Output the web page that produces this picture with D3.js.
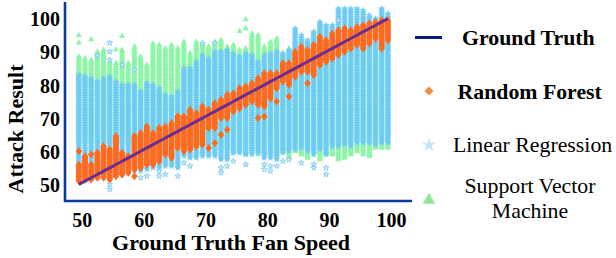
<!DOCTYPE html>
<html><head><meta charset="utf-8">
<script src="https://cdn.jsdelivr.net/npm/d3@7"></script>
<style>
html,body{margin:0;padding:0;background:#fff;}
svg{display:block;}
svg text{font-family:"Liberation Serif","Times New Roman",serif;}
</style></head>
<body><svg id="c" width="616" height="258"></svg>
<script>
// Ground-truth fan speeds (x categories)
const speeds = d3.range(50, 101);
// Random Forest predictions: range of predicted values per speed
const rfLo = [51,51.5,51.5,52,52,51.5,52.5,53,53.5,54.5,55,56,56,57,59,58,61,60,60.5,61.5,62,67,67,70,70,72,73,74,75,74,73.5,76,79,81,80,82.5,84,84,83,86,87,88,89,90,91,92,91,92.5,94,91,93.5];
const rfHi = [56,58.5,56,59.5,61.5,60.5,64.5,59.5,58.5,64.5,65.5,67.5,65.5,67,67.5,68.5,70.5,70.5,72.5,71.5,73.5,72.5,74.5,75.5,77,77.5,79,79.5,80.5,82,83.5,83.5,83.5,86.5,86.5,90,91.5,90.5,92,94.5,93.7,95.7,96.7,97.2,96.7,97.7,98.2,98.7,99.2,99.7,99.7];
const rfOut = [[50,60],[52,59],[59,52.5],[53,59.5],[56,63],[57,59.5],[66,70.5],[71,61],[72,62.5],[73,65],[74,66.5],[79,70],[80,70.5],[82,75],[84,76.5],[87,80.5]];
// Linear Regression predictions
const lrLo = [52,52,52,52.5,53,51.5,53,53,53.5,54,54,54.5,55,55,55.5,55.5,55,58.5,58,58,58.5,58.5,58.5,57.5,57.5,59.5,59.5,59,59,59.5,58,58,57.5,59.5,60,60.5,61,60,59,60.5,59,61.5,61.5,62,61.5,62.5,62.5,62.5,62,62.5,62.5];
const lrHi = [83,82.5,82,81,82,82.5,81,80,80,80,78,80.5,80,79,77,76.5,78,85,85,87,89,88,90,90,90.5,89.5,88.5,89.5,89,87,89,89.5,90,89.5,90.5,97,95,93.5,96,99,98,98,103,103,103,103,102.5,101,100,103,101.5];
const lrOut = [[53,88.8],[55,92.7],[55,90],[55,87.5],[55,48.5],[55,50],[57,86],[59,84.5],[60,52],[61,52.5],[63,54],[63,52.5],[64,53],[66,52.5],[67,56.5],[68,55.5],[70,92.5],[72,92.6],[73,55],[73,53.5],[74,55.5],[75,57],[77,56],[80,56],[80,54.5],[81,55.5],[81,54],[82,55.5],[83,57],[84,57.5],[86,56.5],[88,56],[88,55],[90,55],[90,53],[92,99.5]];
// Support Vector Machine predictions
const svmLo = [63,63,63,63,63,63,63,63,63,63,63,63,63,63,63,63,62.5,62,62,62,62,62,61,60.5,61,59.5,60,59,60.5,59,60,60,59,60,58.5,60,59,58,60,57.5,59,59,57.5,58,59,60,59,58.5,61,61,61];
const svmHi = [88.5,88,87.5,90,90.5,87,86.5,90.5,86.5,91.5,88.5,86,92.5,92,91,92,91,93,89.5,93,92.5,91.5,93,93.5,91.5,92,90.5,91,95.5,95,91.5,93,94,89.5,91,93,93,93,96,98.5,93,93,93,93,93,93,93,93,93,93,93];
const svmOut = [[50,95],[50,92.7],[52,93.7],[56,90.7],[57,94.7],[76,96.2],[77,99.7],[77,97]];
// Axis ticks
const xTicks = [50,60,70,80,90,100];
const yTicks = [50,60,70,80,90,100];
const legendLabels = ["Ground Truth","Random Forest","Linear Regression",["Support Vector","Machine"]];

const svg = d3.select("#c");
const x = d3.scaleLinear().domain([47.6,103.9]).range([64,412]);
const y = d3.scaleLinear().domain([45,105]).range([201,2]);

const C = {rf:"#ff6a1f", lr:"#6fcbf6", svm:"#8cf5a6", line:"#6a2d90"};
const SERIF = "'Liberation Serif','Times New Roman',serif";

const triPath = d3.symbol().type(d3.symbolTriangle).size(16)();
const starPath = d3.symbol().type(d3.symbolStar).size(10)();
const diaPath = "M0,-4L3.2,0L0,4L-3.2,0Z";

function expand(lo, hi){
  const pts=[];
  speeds.forEach((s,i)=>{ for(let v=lo[i]; v<=hi[i]+1e-6; v+=0.5) pts.push([s,v]); });
  return pts;
}

const gSvm = svg.append("g");
gSvm.selectAll("path").data(expand(svmLo,svmHi).concat(svmOut)).join("path")
  .attr("d",triPath).attr("transform",d=>`translate(${x(d[0])},${y(d[1])})`)
  .attr("fill",C.svm);

const gLr = svg.append("g");
gLr.selectAll("path.b").data(expand(lrLo,lrHi)).join("path").attr("class","b")
  .attr("d",starPath).attr("transform",d=>`translate(${x(d[0])},${y(d[1])})`)
  .attr("fill",C.lr).attr("stroke",C.lr).attr("stroke-width",0.6);
gLr.selectAll("path.o").data(lrOut).join("path").attr("class","o")
  .attr("d",starPath).attr("transform",d=>`translate(${x(d[0])},${y(d[1])})`)
  .attr("fill","#dff2fd").attr("stroke","#72c6f2").attr("stroke-width",0.8);

const gRf = svg.append("g");
gRf.selectAll("path").data(expand(rfLo,rfHi).concat(rfOut)).join("path")
  .attr("d",diaPath).attr("transform",d=>`translate(${x(d[0])},${y(d[1])})`)
  .attr("fill",C.rf);

// ground truth line
svg.append("path").datum(speeds)
  .attr("d",d3.line().x(d=>x(d)).y(d=>y(d)))
  .attr("fill","none").attr("stroke",C.line).attr("stroke-width",3);

// axes
const axisCol = "#0b3a9e";
const xAxis = svg.append("g").attr("transform","translate(0,201)")
  .call(d3.axisBottom(x).tickValues(xTicks).tickSize(0).tickPadding(0));
xAxis.attr("font-family",SERIF).attr("font-size",null);
xAxis.select(".domain").attr("stroke",axisCol).attr("stroke-width",2.6).attr("d","M64,0H412");
xAxis.selectAll("text").style("font-family",SERIF).style("font-size","20px").style("font-weight","bold").attr("fill","#000")
  .attr("dx",3).attr("dy",null).attr("y",26);

const yAxis = svg.append("g").attr("transform","translate(65,0)")
  .call(d3.axisLeft(y).tickValues(yTicks).tickSize(0).tickPadding(0));
yAxis.attr("font-family",SERIF).attr("font-size",null);
yAxis.select(".domain").attr("stroke",axisCol).attr("stroke-width",2.6).attr("d","M0,2V202");
yAxis.selectAll("text").style("font-family",SERIF).style("font-size","20px").style("font-weight","bold").attr("fill","#000")
  .attr("x",-5).attr("dy","0.36em");

svg.append("text").attr("x",231).attr("y",250).attr("text-anchor","middle")
  .style("font-size","22px").style("font-weight","bold").text("Ground Truth Fan Speed");
svg.append("text").attr("transform","translate(23,129) rotate(-90)").attr("text-anchor","middle")
  .style("font-size","22px").style("font-weight","bold").text("Attack Result");

// legend
const lg = svg.append("g");
lg.append("line").attr("x1",415).attr("x2",442).attr("y1",37.5).attr("y2",37.5)
  .attr("stroke","#0c1a7e").attr("stroke-width",3);
lg.append("text").attr("x",462).attr("y",44.5).style("font-size","21.8px").style("font-weight","bold").text(legendLabels[0]);
lg.append("path").attr("d","M0,-4.5L4.5,0L0,4.5L-4.5,0Z").attr("transform","translate(429,91)").attr("fill","#f28c3e");
lg.append("text").attr("x",457.5).attr("y",98.5).style("font-size","21.8px").style("font-weight","bold").text(legendLabels[1]);
lg.append("path").attr("d",d3.symbol().type(d3.symbolStar).size(60)()).attr("transform","translate(429,145)").attr("fill","#bfe6fb");
lg.append("text").attr("x",453).attr("y",152).style("font-size","21.8px").text(legendLabels[2]);
lg.append("path").attr("d",d3.symbol().type(d3.symbolTriangle).size(70)()).attr("transform","translate(429,200)").attr("fill","#8ee99c");
lg.append("text").attr("x",530).attr("y",193).attr("text-anchor","middle").style("font-size","21.8px").text(legendLabels[3][0]);
lg.append("text").attr("x",530).attr("y",218).attr("text-anchor","middle").style("font-size","21.8px").text(legendLabels[3][1]);
</script></body></html>
